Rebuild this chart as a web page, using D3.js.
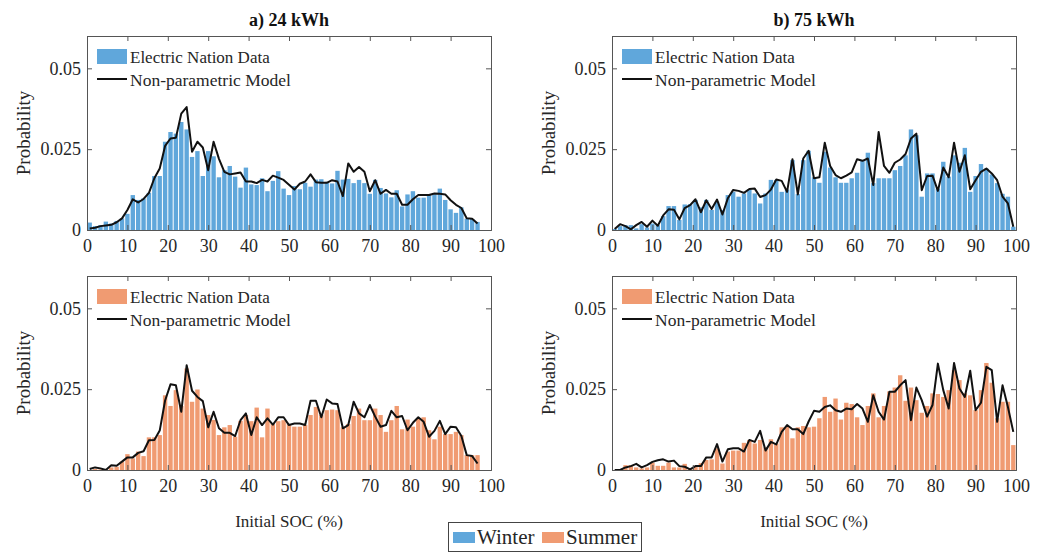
<!DOCTYPE html>
<html>
<head>
<meta charset="utf-8">
<script src="https://cdn.jsdelivr.net/npm/d3@7"></script>
<style>
  html, body { margin: 0; padding: 0; background: #fff; }
  svg { display: block; }
  svg text { font-family: "Liberation Serif", "DejaVu Serif", serif; }
</style>
</head>
<body>
<svg id="chart" width="1045" height="554"></svg>
<script>
// Histogram bins of initial state of charge (SOC, %), 75 equal bins over 0–100
const socBinWidth = 100 / 75;

const xTicks = [0, 10, 20, 30, 40, 50, 60, 70, 80, 90, 100];
const yTicks = [0, 0.025, 0.05];
const yTickLabels = ["0", "0.025", "0.05"];

const panelTitles = ["a) 24 kWh", "b) 75 kWh"];
const seasonNames = ["Winter", "Summer"];
const legendNames = ["Electric Nation Data", "Non-parametric Model"];

// 24 kWh battery, winter
const winter24Data = [
  0.0023, 0.0012, 0.0015, 0.0026, 0.0020, 0.0028, 0.0036, 0.0050, 0.0108, 0.0093,
  0.0098, 0.0115, 0.0167, 0.0167, 0.0273, 0.0303, 0.0298, 0.0334, 0.0311, 0.0226,
  0.0244, 0.0167, 0.0244, 0.0228, 0.0163, 0.0185, 0.0198, 0.0165, 0.0131, 0.0193,
  0.0141, 0.0139, 0.0160, 0.0120, 0.0152, 0.0182, 0.0128, 0.0108, 0.0136, 0.0126,
  0.0146, 0.0134, 0.0156, 0.0157, 0.0149, 0.0144, 0.0183, 0.0156, 0.0158, 0.0145,
  0.0155, 0.0145, 0.0112, 0.0155, 0.0130, 0.0113, 0.0101, 0.0123, 0.0073, 0.0110,
  0.0120, 0.0100, 0.0100, 0.0108, 0.0110, 0.0128, 0.0093, 0.0064, 0.0053, 0.0070,
  0.0035, 0.0034, 0.0025
];
const winter24Model = [
  0.0005, 0.0007, 0.0012, 0.0014, 0.0016, 0.0024, 0.0036, 0.0062, 0.0095, 0.0085,
  0.0096, 0.0115, 0.0160, 0.0190, 0.0260, 0.0283, 0.0285, 0.0360, 0.0380, 0.0242,
  0.0273, 0.0255, 0.0185, 0.0273, 0.0220, 0.0180, 0.0172, 0.0175, 0.0178, 0.0150,
  0.0150, 0.0145, 0.0155, 0.0150, 0.0168, 0.0162, 0.0155, 0.0140, 0.0125, 0.0143,
  0.0150, 0.0172, 0.0148, 0.0146, 0.0146, 0.0154, 0.0150, 0.0105, 0.0206, 0.0180,
  0.0195, 0.0180, 0.0120, 0.0154, 0.0112, 0.0124, 0.0112, 0.0112, 0.0078, 0.0078,
  0.0095, 0.0108, 0.0108, 0.0108, 0.0113, 0.0112, 0.0110, 0.0092, 0.0078, 0.0068,
  0.0036, 0.0035, 0.0020
];

// 75 kWh battery, winter
const winter75Data = [
  0.0003, 0.0012, 0.0015, 0.0015, 0.0005, 0.0018, 0.0008, 0.0020, 0.0015, 0.0043,
  0.0074, 0.0074, 0.0031, 0.0079, 0.0080, 0.0093, 0.0070, 0.0093, 0.0062, 0.0088,
  0.0062, 0.0108, 0.0118, 0.0103, 0.0113, 0.0126, 0.0113, 0.0082, 0.0113, 0.0155,
  0.0155, 0.0118, 0.0125, 0.0216, 0.0111, 0.0216, 0.0245, 0.0163, 0.0146, 0.0242,
  0.0193, 0.0163, 0.0146, 0.0146, 0.0160, 0.0177, 0.0214, 0.0239, 0.0145, 0.0160,
  0.0160, 0.0160, 0.0185, 0.0198, 0.0231, 0.0311, 0.0293, 0.0103, 0.0175, 0.0175,
  0.0128, 0.0211, 0.0165, 0.0231, 0.0208, 0.0254, 0.0118, 0.0167, 0.0204, 0.0190,
  0.0172, 0.0145, 0.0112, 0.0103, 0.0010
];
const winter75Model = [
  0.0003, 0.0018, 0.0012, 0.0002, 0.0015, 0.0025, 0.0010, 0.0029, 0.0013, 0.0045,
  0.0064, 0.0063, 0.0033, 0.0068, 0.0077, 0.0095, 0.0055, 0.0092, 0.0065, 0.0094,
  0.0048, 0.0098, 0.0124, 0.0121, 0.0115, 0.0127, 0.0128, 0.0102, 0.0108, 0.0125,
  0.0156, 0.0152, 0.0118, 0.0219, 0.0110, 0.0221, 0.0245, 0.0160, 0.0163, 0.0270,
  0.0198, 0.0170, 0.0160, 0.0168, 0.0178, 0.0219, 0.0214, 0.0221, 0.0139, 0.0303,
  0.0198, 0.0177, 0.0208, 0.0218, 0.0235, 0.0283, 0.0298, 0.0123, 0.0167, 0.0168,
  0.0121, 0.0193, 0.0163, 0.0270, 0.0180, 0.0231, 0.0126, 0.0154, 0.0180, 0.0190,
  0.0175, 0.0154, 0.0103, 0.0082, 0.0010
];

// 24 kWh battery, summer
const summer24Data = [
  0.0000, 0.0003, 0.0002, 0.0002, 0.0008, 0.0010, 0.0026, 0.0049, 0.0036, 0.0057,
  0.0043, 0.0101, 0.0101, 0.0108, 0.0231, 0.0198, 0.0247, 0.0198, 0.0314, 0.0211,
  0.0249, 0.0190, 0.0170, 0.0155, 0.0108, 0.0132, 0.0139, 0.0103, 0.0152, 0.0170,
  0.0151, 0.0193, 0.0101, 0.0190, 0.0144, 0.0151, 0.0154, 0.0142, 0.0134, 0.0134,
  0.0139, 0.0170, 0.0195, 0.0170, 0.0185, 0.0187, 0.0185, 0.0132, 0.0142, 0.0167,
  0.0190, 0.0154, 0.0154, 0.0190, 0.0170, 0.0118, 0.0154, 0.0198, 0.0126, 0.0156,
  0.0134, 0.0160, 0.0163, 0.0123, 0.0095, 0.0134, 0.0111, 0.0111, 0.0118, 0.0108,
  0.0046, 0.0046, 0.0046
];
const summer24Model = [
  0.0003, 0.0008, 0.0005, 0.0000, 0.0015, 0.0013, 0.0026, 0.0039, 0.0039, 0.0053,
  0.0058, 0.0092, 0.0093, 0.0122, 0.0215, 0.0265, 0.0262, 0.0180, 0.0324, 0.0245,
  0.0226, 0.0213, 0.0132, 0.0180, 0.0129, 0.0115, 0.0115, 0.0105, 0.0154, 0.0175,
  0.0108, 0.0163, 0.0139, 0.0160, 0.0140, 0.0163, 0.0163, 0.0139, 0.0144, 0.0144,
  0.0139, 0.0214, 0.0214, 0.0163, 0.0218, 0.0206, 0.0204, 0.0129, 0.0139, 0.0211,
  0.0175, 0.0163, 0.0201, 0.0165, 0.0134, 0.0139, 0.0183, 0.0163, 0.0167, 0.0123,
  0.0146, 0.0163, 0.0149, 0.0103, 0.0121, 0.0152, 0.0111, 0.0134, 0.0132, 0.0105,
  0.0046, 0.0043, 0.0020
];

// 75 kWh battery, summer
const summer75Data = [
  0.0000, 0.0003, 0.0015, 0.0015, 0.0008, 0.0005, 0.0008, 0.0023, 0.0013, 0.0013,
  0.0023, 0.0008, 0.0008, 0.0019, 0.0005, 0.0013, 0.0021, 0.0031, 0.0033, 0.0067,
  0.0020, 0.0057, 0.0060, 0.0060, 0.0084, 0.0093, 0.0082, 0.0093, 0.0070, 0.0095,
  0.0082, 0.0132, 0.0134, 0.0098, 0.0132, 0.0136, 0.0132, 0.0134, 0.0160, 0.0226,
  0.0180, 0.0221, 0.0156, 0.0208, 0.0204, 0.0163, 0.0139, 0.0198, 0.0237, 0.0163,
  0.0198, 0.0243, 0.0255, 0.0293, 0.0214, 0.0255, 0.0216, 0.0177, 0.0198, 0.0237,
  0.0235, 0.0226, 0.0247, 0.0309, 0.0278, 0.0237, 0.0231, 0.0185, 0.0247, 0.0331,
  0.0270, 0.0160, 0.0211, 0.0211, 0.0077
];
const summer75Model = [
  0.0000, 0.0000, 0.0008, 0.0012, 0.0019, 0.0008, 0.0015, 0.0025, 0.0030, 0.0033,
  0.0026, 0.0029, 0.0012, 0.0010, 0.0002, 0.0012, 0.0012, 0.0039, 0.0039, 0.0080,
  0.0026, 0.0064, 0.0067, 0.0067, 0.0057, 0.0093, 0.0087, 0.0121, 0.0060, 0.0087,
  0.0079, 0.0118, 0.0139, 0.0126, 0.0126, 0.0111, 0.0150, 0.0183, 0.0180, 0.0195,
  0.0200, 0.0185, 0.0180, 0.0190, 0.0188, 0.0204, 0.0190, 0.0149, 0.0231, 0.0180,
  0.0156, 0.0242, 0.0242, 0.0262, 0.0278, 0.0154, 0.0255, 0.0216, 0.0165, 0.0201,
  0.0329, 0.0247, 0.0190, 0.0331, 0.0252, 0.0226, 0.0307, 0.0185, 0.0208, 0.0319,
  0.0309, 0.0149, 0.0262, 0.0195, 0.0118
];

const colours = { Winter: "#60a7db", Summer: "#f09b72" };
const fontFamily = "Liberation Serif, DejaVu Serif, serif";

const svg = d3.select("#chart");

const columns = [{ left: 87, right: 491 }, { left: 612, right: 1016 }];
const rows = [{ top: 36, bottom: 230 }, { top: 276, bottom: 470 }];

const panels = [
  { col: 0, row: 0, season: "Winter", data: winter24Data, model: winter24Model },
  { col: 1, row: 0, season: "Winter", data: winter75Data, model: winter75Model },
  { col: 0, row: 1, season: "Summer", data: summer24Data, model: summer24Model },
  { col: 1, row: 1, season: "Summer", data: summer75Data, model: summer75Model }
];

const axisColour = "#555";
const textColour = "#262626";

function addText(parent, x, y, str, size, opts = {}) {
  const t = parent.append("text")
    .attr("x", x).attr("y", y)
    .attr("font-family", fontFamily)
    .attr("font-size", size)
    .attr("dominant-baseline", "central")
    .attr("fill", opts.fill || textColour)
    .attr("text-anchor", opts.anchor || "start")
    .text(str);
  if (opts.bold) t.attr("font-weight", "bold");
  if (opts.transform) t.attr("transform", opts.transform);
  return t;
}

panels.forEach((p, k) => {
  const c = columns[p.col], r = rows[p.row];
  const x = d3.scaleLinear().domain([0, 100]).range([c.left, c.right]);
  const y = d3.scaleLinear().domain([0, 0.06]).range([r.bottom, r.top]);
  const g = svg.append("g");
  const clipId = "clip" + k;

  svg.append("clipPath").attr("id", clipId)
    .append("rect")
    .attr("x", c.left).attr("y", r.top)
    .attr("width", c.right - c.left).attr("height", r.bottom - r.top);

  const plot = g.append("g").attr("clip-path", `url(#${clipId})`);

  // histogram bars
  plot.selectAll("rect.bar")
    .data(p.data)
    .join("rect")
    .attr("class", "bar")
    .attr("x", (d, i) => x(i * socBinWidth) + 0.5)
    .attr("width", (d, i) => x((i + 1) * socBinWidth) - x(i * socBinWidth) - 1)
    .attr("y", d => y(d))
    .attr("height", d => y(0) - y(d))
    .attr("fill", colours[p.season]);

  // non-parametric model curve at bin centres
  const line = d3.line()
    .x((d, i) => x((i + 0.5) * socBinWidth))
    .y(d => y(d));
  plot.append("path")
    .datum(p.model)
    .attr("d", line)
    .attr("fill", "none")
    .attr("stroke", "#111")
    .attr("stroke-width", 2)
    .attr("stroke-linejoin", "round");

  // axes: box with inward ticks on all sides
  const tickLen = 5;
  const xBottom = d3.axisBottom(x).tickValues(xTicks).tickSize(-tickLen).tickPadding(9);
  const xTop = d3.axisTop(x).tickValues(xTicks).tickSize(-tickLen).tickFormat("");
  const yLeft = d3.axisLeft(y).tickValues(yTicks).tickSize(-tickLen).tickPadding(6)
    .tickFormat((d, i) => yTickLabels[i]);
  const yRight = d3.axisRight(y).tickValues(yTicks).tickSize(-tickLen).tickFormat("");

  const gxb = g.append("g").attr("transform", `translate(0,${r.bottom})`).call(xBottom);
  const gxt = g.append("g").attr("transform", `translate(0,${r.top})`).call(xTop);
  const gyl = g.append("g").attr("transform", `translate(${c.left},0)`).call(yLeft);
  const gyr = g.append("g").attr("transform", `translate(${c.right},0)`).call(yRight);

  [gxb, gxt, gyl, gyr].forEach(a => {
    a.attr("font-family", fontFamily).attr("font-size", 18);
    a.selectAll("path.domain").attr("stroke", axisColour).attr("stroke-width", 1);
    a.selectAll(".tick line").attr("stroke", axisColour);
    a.selectAll(".tick text").attr("fill", textColour);
  });

  // y axis label
  addText(g, 0, 0, "Probability", 19, {
    anchor: "middle",
    transform: `translate(${c.left - 64},${(r.top + r.bottom) / 2}) rotate(-90)`
  });

  // in-axes legend
  const lx = c.left + 10, ly = r.top + 13;
  g.append("rect")
    .attr("x", lx).attr("y", ly)
    .attr("width", 30).attr("height", 15)
    .attr("fill", colours[p.season]);
  addText(g, lx + 33, ly + 8, legendNames[0], 17);
  g.append("line")
    .attr("x1", lx).attr("x2", lx + 30)
    .attr("y1", ly + 30).attr("y2", ly + 30)
    .attr("stroke", "#111").attr("stroke-width", 2);
  addText(g, lx + 33, ly + 31, legendNames[1], 17.5);

  // column titles and x-axis labels
  if (p.row === 0) {
    addText(g, (c.left + c.right) / 2, 20, panelTitles[p.col], 18,
      { anchor: "middle", bold: true, fill: "#111" });
  } else {
    addText(g, (c.left + c.right) / 2, 521, "Initial SOC (%)", 17, { anchor: "middle" });
  }
});

// season legend at the bottom
const leg = svg.append("g");
leg.append("rect")
  .attr("x", 448.5).attr("y", 522.5)
  .attr("width", 193).attr("height", 29)
  .attr("fill", "#fff")
  .attr("stroke", "#444").attr("stroke-width", 1);
const legendX = [453, 542];
seasonNames.forEach((s, i) => {
  leg.append("rect")
    .attr("x", legendX[i]).attr("y", 532)
    .attr("width", 22).attr("height", 11)
    .attr("fill", colours[s]);
  addText(leg, legendX[i] + 24, 537, s, 21);
});
</script>
</body>
</html>
